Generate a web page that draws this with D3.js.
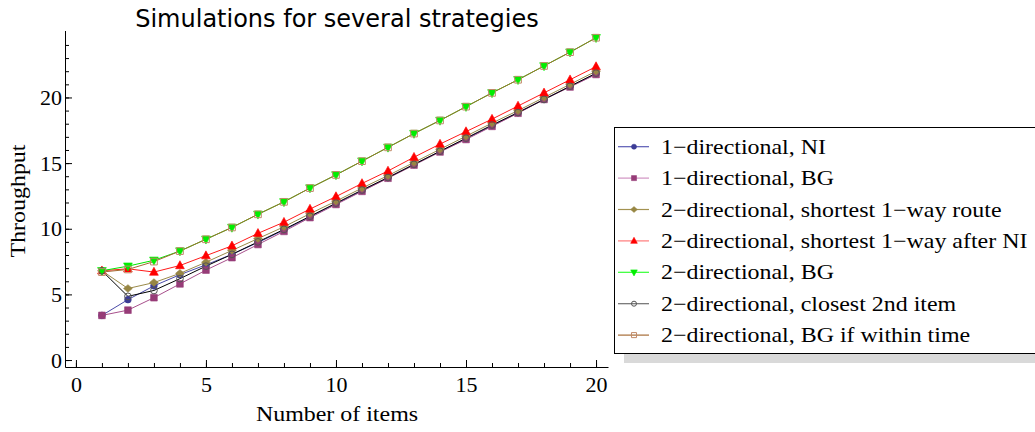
<!DOCTYPE html>
<html>
<head>
<meta charset="utf-8">
<script src="https://cdn.jsdelivr.net/npm/d3@7"></script>
<style>
  body { margin: 0; background: #fff; }
  svg { display: block; }
</style>
</head>
<body>
<div id="chart"></div>
<script>
const items = [1, 2, 3, 4, 5, 6, 7, 8, 9, 10, 11, 12, 13, 14, 15, 16, 17, 18, 19, 20];
const xTicks = [0, 5, 10, 15, 20];
const yTicks = [0, 5, 10, 15, 20];
const xMinor = [0, 1, 2, 3, 4, 5, 6, 7, 8, 9, 10, 11, 12, 13, 14, 15, 16, 17, 18, 19, 20];
const yMinor = [0, 1, 2, 3, 4, 5, 6, 7, 8, 9, 10, 11, 12, 13, 14, 15, 16, 17, 18, 19, 20, 21, 22, 23, 24];

const seriesNames = [
  '1\u2212directional, NI',
  '1\u2212directional, BG',
  '2\u2212directional, shortest 1\u2212way route',
  '2\u2212directional, shortest 1\u2212way after NI',
  '2\u2212directional, BG',
  '2\u2212directional, closest 2nd item',
  '2\u2212directional, BG if within time'
];

const oneDirNI = [3.4, 4.6, 5.65, 6.5, 7.25, 8.05, 8.95, 9.9, 10.9, 11.9, 12.9, 13.9, 14.9, 15.9, 16.85, 17.85, 18.85, 19.85, 20.85, 21.8];
const oneDirBG = [3.4, 3.8, 4.75, 5.8, 6.85, 7.8, 8.8, 9.8, 10.85, 11.85, 12.85, 13.85, 14.85, 15.85, 16.8, 17.8, 18.8, 19.85, 20.8, 21.75];
const twoDirShortest = [6.8, 5.45, 5.9, 6.6, 7.45, 8.35, 9.25, 10.15, 11.15, 12.1, 13.1, 14.05, 15.05, 16.05, 17.05, 18.05, 19.0, 20.0, 21.0, 22.0];
const twoDirAfterNI = [6.8, 6.95, 6.7, 7.2, 7.95, 8.7, 9.65, 10.5, 11.5, 12.45, 13.45, 14.4, 15.45, 16.45, 17.4, 18.35, 19.35, 20.35, 21.35, 22.35];
const twoDirBG = [6.8, 7.15, 7.6, 8.3, 9.2, 10.1, 11.1, 12.05, 13.1, 14.1, 15.15, 16.2, 17.25, 18.25, 19.3, 20.35, 21.35, 22.4, 23.45, 24.55];
const twoDirClosest = [6.8, 4.85, 5.3, 6.2, 7.15, 8.05, 9.0, 9.95, 10.95, 11.95, 12.95, 13.9, 14.9, 15.9, 16.9, 17.9, 18.85, 19.85, 20.85, 21.85];
const twoDirWithinTime = [6.7, 6.9, 7.5, 8.3, 9.2, 10.1, 11.1, 12.05, 13.1, 14.1, 15.15, 16.2, 17.25, 18.25, 19.3, 20.35, 21.35, 22.4, 23.45, 24.55];

const allSeries = [oneDirNI, oneDirBG, twoDirShortest, twoDirAfterNI, twoDirBG, twoDirClosest, twoDirWithinTime];

// drawing styles, one per series
const styles = [
  { line: '#4a4aa8', key: '#5a5ab4', mark: '#3c3c96', shape: 'circle', open: false },
  { line: '#a8508c', key: '#d093c2', mark: '#973c78', shape: 'square', open: false },
  { line: '#9a8a4a', key: '#a39250', mark: '#978643', shape: 'diamond', open: false },
  { line: '#ff1a1a', key: '#ff7a7a', mark: '#ff0000', shape: 'triUp', open: false },
  { line: '#00e600', key: '#33ff33', mark: '#00ee00', shape: 'triDown', open: false },
  { line: '#000000', key: '#6e6e6e', mark: '#555555', shape: 'circle', open: true },
  { line: '#a36a30', key: '#a66c36', mark: '#c08a68', shape: 'square', open: true }
];

const W = 1035, H = 432;
const svg = d3.select('#chart').append('svg').attr('width', W).attr('height', H);

const xScale = d3.scaleLinear().domain([-0.42, 20.46]).range([65, 608]);
const yScale = d3.scaleLinear().domain([-0.53, 25.1]).range([367, 30.5]);

const serif = '"Liberation Serif", "Times New Roman", serif';

function markerPath(shape, s) {
  const p = d3.path();
  if (shape === 'circle') {
    p.arc(0, 0, s * 0.42, 0, 2 * Math.PI);
  } else if (shape === 'square') {
    p.rect(-s * 0.42, -s * 0.42, s * 0.84, s * 0.84);
  } else if (shape === 'diamond') {
    p.moveTo(0, -s * 0.48); p.lineTo(s * 0.55, 0); p.lineTo(0, s * 0.48); p.lineTo(-s * 0.55, 0); p.closePath();
  } else if (shape === 'triUp') {
    p.moveTo(0, -s * 0.6); p.lineTo(s * 0.55, s * 0.4); p.lineTo(-s * 0.55, s * 0.4); p.closePath();
  } else if (shape === 'triDown') {
    p.moveTo(0, s * 0.6); p.lineTo(s * 0.55, -s * 0.4); p.lineTo(-s * 0.55, -s * 0.4); p.closePath();
  }
  return p.toString();
}

function drawMarker(g, st, x, y, s) {
  g.append('path')
    .attr('d', markerPath(st.shape, s))
    .attr('transform', `translate(${x},${y})`)
    .attr('fill', st.open ? 'none' : st.mark)
    .attr('stroke', st.mark)
    .attr('stroke-width', st.open ? 1 : 0.6);
}

// axes
const xAxisY = yScale(-0.53);
const yAxisX = xScale(-0.42);

svg.append('g')
  .attr('transform', `translate(0,${xAxisY})`)
  .call(d3.axisBottom(xScale).tickValues(xMinor).tickSize(-4).tickSizeOuter(0).tickFormat(''))
  .call(g => g.select('.domain').remove());
svg.append('g')
  .attr('transform', `translate(0,${xAxisY})`)
  .call(d3.axisBottom(xScale).tickValues(xTicks).tickSize(-7).tickSizeOuter(0).tickPadding(9))
  .call(g => g.selectAll('text').attr('font-family', serif).attr('font-size', 22).attr('fill', '#000'));

svg.append('g')
  .attr('transform', `translate(${yAxisX},0)`)
  .call(d3.axisLeft(yScale).tickValues(yMinor).tickSize(-4).tickSizeOuter(0).tickFormat(''))
  .call(g => g.select('.domain').remove());
svg.append('g')
  .attr('transform', `translate(${yAxisX},0)`)
  .call(d3.axisLeft(yScale).tickValues(yTicks).tickSize(-7).tickSizeOuter(0).tickPadding(3))
  .call(g => g.selectAll('text').attr('font-family', serif).attr('font-size', 22).attr('fill', '#000'));

svg.selectAll('.domain').attr('stroke', '#000');
svg.selectAll('.tick line').attr('stroke', '#000');

// lines
const line = d3.line().x((d, i) => xScale(items[i])).y(d => yScale(d));
const plot = svg.append('g');
allSeries.forEach((vals, k) => {
  plot.append('path')
    .attr('d', line(vals))
    .attr('fill', 'none')
    .attr('stroke', styles[k].line)
    .attr('stroke-width', 1);
});
allSeries.forEach((vals, k) => {
  vals.forEach((v, i) => drawMarker(plot, styles[k], xScale(items[i]), yScale(v), 8));
});

// titles
svg.append('text')
  .attr('x', 337).attr('y', 27)
  .attr('text-anchor', 'middle')
  .attr('font-family', '"DejaVu Sans", Verdana, sans-serif')
  .attr('font-size', 24)
  .text('Simulations for several strategies');

svg.append('text')
  .attr('transform', 'translate(337,421) scale(1.14,1)')
  .attr('text-anchor', 'middle')
  .attr('font-family', serif)
  .attr('font-size', 21)
  .text('Number of items');

svg.append('text')
  .attr('transform', 'translate(25,201) rotate(-90) scale(1.14,1)')
  .attr('text-anchor', 'middle')
  .attr('font-family', serif)
  .attr('font-size', 21)
  .text('Throughput');

// legend
const legend = svg.append('g');
legend.append('rect')
  .attr('x', 624).attr('y', 137).attr('width', 440).attr('height', 226)
  .attr('fill', '#d9d9d9');
legend.append('rect')
  .attr('x', 614.5).attr('y', 127.5).attr('width', 430).attr('height', 226)
  .attr('fill', '#fff').attr('stroke', '#000').attr('stroke-width', 1);

seriesNames.forEach((name, k) => {
  const cy = 146.7 + k * 31.4;
  legend.append('line')
    .attr('x1', 618).attr('x2', 649).attr('y1', cy).attr('y2', cy)
    .attr('stroke', styles[k].key).attr('stroke-width', 1.2);
  drawMarker(legend, styles[k], 634, cy, 6);
  legend.append('text')
    .attr('transform', `translate(661,${cy + 7}) scale(1.14,1)`)
    .attr('font-family', serif)
    .attr('font-size', 21)
    .text(name);
});
</script>
</body>
</html>
